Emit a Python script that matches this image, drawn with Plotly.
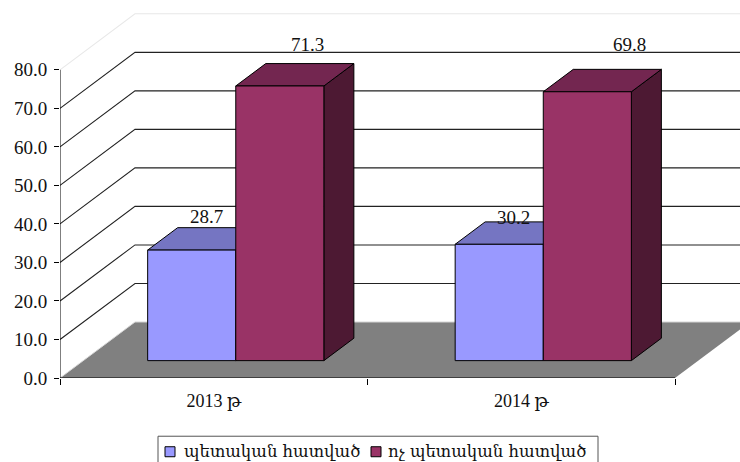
import plotly.graph_objects as go

categories = ["2013 թ", "2014 թ"]
series_names = ["պետական հատված", "ոչ պետական հատված"]
state_values = [28.7, 30.2]
nonstate_values = [71.3, 69.8]
y_ticks = [0, 10, 20, 30, 40, 50, 60, 70, 80]

FONT = "Liberation Serif, DejaVu Serif, serif"
ARM_FONT = "DejaVu Serif, serif"
W, H = 740, 462
L, B = 60, 84.2
PX_X = 307.5   # px per category
PX_Y = 3.85    # px per value unit
WALL_X = 75 / PX_X
WALL_Y = 56 / PX_Y
GAP = 0.2095
BAR_W = 0.2865
D0, D1 = 0.31, 0.71
FACE = [("#9999FF", "#7575C2", "#4D4D80"), ("#993366", "#732650", "#4D1933")]
LABEL_SHIFT = [[(-15, 11), (-16, 4)], [(-2, 19), (12, 25)]]
LEGEND_BOX = (158, 436, 598, 470)
LEGEND_SWATCH_X = [170, 376]
LEGEND_TEXT_X = [183, 387]
LEGEND_Y = 451.5


def px(c, v, d=0.0):
    return c + d * WALL_X, v + d * WALL_Y


def poly(points, color, width=1.0, line="#000000"):
    xs, ys = zip(*points)
    return go.Scatter(x=list(xs) + [xs[0]], y=list(ys) + [ys[0]], mode="lines", fill="toself",
                      fillcolor=color, line=dict(color=line, width=width),
                      showlegend=False, hoverinfo="skip")


fig = go.Figure()
ncat = len(categories)

# walls
for v in y_ticks[1:]:
    col = "#E8E8E8" if v == y_ticks[-1] else "#222222"
    x0, y0 = px(0, v)
    x1, y1 = px(0, v, 1)
    x2, y2 = px(ncat + 1, v, 1)
    fig.add_trace(go.Scatter(x=[x0, x1, x2], y=[y0, y1, y2], mode="lines",
                             line=dict(color=col, width=1.1), showlegend=False, hoverinfo="skip"))

# floor
fig.add_trace(poly([px(0, 0), px(ncat, 0), px(ncat, 0, 1), px(0, 0, 1)], "#808080", 0, "#808080"))
x0, y0 = px(0, 0)
x1, y1 = px(0, 0, 1)
x2, y2 = px(ncat + 1, 0, 1)
fig.add_trace(go.Scatter(x=[x0, x1, x2], y=[y0, y1, y2], mode="lines",
                         line=dict(color="#D8D8D8", width=1), showlegend=False, hoverinfo="skip"))

# bars
series = [state_values, nonstate_values]
for s, vals in enumerate(series):
    front, top, side = FACE[s]
    for c, v in enumerate(vals):
        a = c + GAP + s * BAR_W
        b = a + BAR_W
        fig.add_trace(poly([px(b, 0, D0), px(b, 0, D1), px(b, v, D1), px(b, v, D0)], side))
        fig.add_trace(poly([px(a, v, D0), px(b, v, D0), px(b, v, D1), px(a, v, D1)], top))
        fig.add_trace(poly([px(a, 0, D0), px(b, 0, D0), px(b, v, D0), px(a, v, D0)], front))

# axis lines
for xs, ys in [([0, 0], [0, y_ticks[-1]]), ([0, ncat], [0, 0])]:
    fig.add_trace(go.Scatter(x=xs, y=ys, mode="lines", cliponaxis=False,
                             line=dict(color="#000000", width=1), showlegend=False, hoverinfo="skip"))

# data labels
for s, vals in enumerate(series):
    for c, v in enumerate(vals):
        xa, ya = px(c + GAP + (s + 0.5) * BAR_W, v, D1)
        fig.add_annotation(x=xa, y=ya, text=f"{v:.1f}", showarrow=False,
                           xshift=LABEL_SHIFT[s][c][0], yshift=LABEL_SHIFT[s][c][1],
                           font=dict(family=FONT, size=19, color="#111111"))


# legend, placed in page pixels so box, swatches and text sit where the reference has them
def fx(p):
    return (p - L) / (W - L)


def fy(p):
    return (H - B - p) / (H - B)


fig.add_shape(type="rect", xref="paper", yref="paper", x0=fx(LEGEND_BOX[0]), x1=fx(LEGEND_BOX[2]),
              y0=fy(LEGEND_BOX[1]), y1=fy(LEGEND_BOX[3]), line=dict(color="#555555", width=1),
              fillcolor="#FFFFFF")
for s, name in enumerate(series_names):
    fig.add_shape(type="rect", xref="paper", yref="paper",
                  x0=fx(LEGEND_SWATCH_X[s] - 5), x1=fx(LEGEND_SWATCH_X[s] + 5),
                  y0=fy(LEGEND_Y - 5), y1=fy(LEGEND_Y + 5),
                  line=dict(color="#000000", width=1), fillcolor=FACE[s][0])
    fig.add_annotation(xref="paper", yref="paper", x=fx(LEGEND_TEXT_X[s]), y=fy(LEGEND_Y), text=name,
                       showarrow=False, xanchor="left", yanchor="middle", borderpad=0,
                       font=dict(family=ARM_FONT, size=16.5, color="#111111"))

fig.update_layout(
    width=W, height=H, margin=dict(l=L, r=0, t=0, b=B, autoexpand=False),
    paper_bgcolor="#FFFFFF", plot_bgcolor="#FFFFFF",
    font=dict(family=FONT, size=18, color="#111111"),
    hovermode=False, showlegend=False,
    xaxis=dict(range=[0, (W - L) / PX_X], tickvals=[i + 0.5 for i in range(ncat)], ticktext=categories,
               ticks="", showgrid=False, zeroline=False, showline=False, ticklabelstandoff=10,
               minor=dict(tickvals=list(range(ncat + 1)), ticks="outside", ticklen=6, tickcolor="#000000",
                          showgrid=False)),
    yaxis=dict(range=[0, (H - B) / PX_Y], tickvals=y_ticks, tickformat=".1f", ticks="outside", ticklen=5,
               tickcolor="#000000", showgrid=False, zeroline=False, showline=False, ticklabelstandoff=3,
               tickfont=dict(size=19)),
)

fig.write_html("out.html", config={"displayModeBar": False}, post_script="document.body.style.margin='0';")
